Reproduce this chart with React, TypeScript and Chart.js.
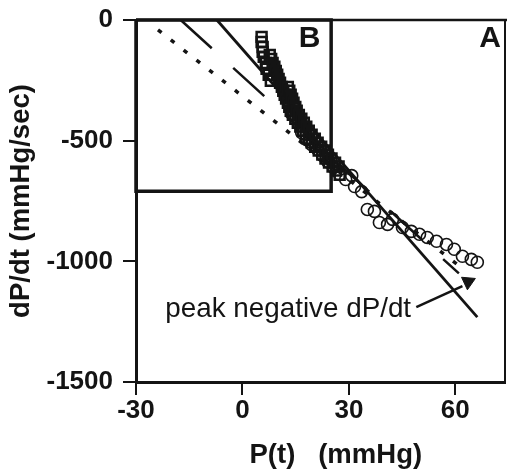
import { useEffect, useRef } from 'react';
import { Chart, registerables } from 'chart.js';

Chart.register(...registerables);

// ---- axis setup ----
const X_TICKS = [-30, 0, 30, 60];
const Y_TICKS = [0, -500, -1000, -1500];
const X_MIN = -30;
const X_MAX = 74;
const Y_MIN = -1500;
const Y_MAX = 0;
const X_TITLE = '    P(t)   (mmHg)';
const Y_TITLE = 'dP/dt (mmHg/sec)';

// ---- open squares (early relaxation) ----
const squareX = [
  5.4, 5.4, 5.7, 5.7, 6.0, 6.6, 6.8, 7.4, 8.0,
  7.7, 8.1, 8.5, 9.0, 9.4, 9.8, 10.2, 10.6, 11.1, 11.5, 11.9, 12.3, 12.8, 13.2, 13.6, 14.2,
  14.9, 15.6, 16.3, 17.0, 17.8, 18.7, 19.5, 20.5, 21.5, 22.5, 23.4, 24.4, 25.4, 26.4, 27.4,
  12.8, 13.2, 13.6, 14.0, 14.4, 14.9, 15.3, 15.9, 16.6, 17.3, 18.0, 18.7, 19.5, 20.4,
  21.2, 22.2, 23.2, 24.1, 25.1, 26.1, 27.1,
];
const squareY = [
  -70, -91, -112, -132, -153, -178, -202, -227, -252,
  -145, -161, -178, -194, -211, -227, -244, -260, -277, -293, -310, -326, -343, -360, -376, -393,
  -409, -426, -442, -459, -475, -492, -508, -525, -541, -558, -574, -591, -607, -624, -641,
  -277, -293, -310, -326, -343, -360, -376, -393, -409, -426, -442, -459, -475, -492,
  -508, -525, -541, -558, -574, -591, -607,
];

// ---- open circles ----
const circleX = [
  16.7, 18.1, 19.5, 21.2, 22.6, 24.0, 25.7, 27.4, 29.1, 30.8, 31.6, 33.6,
  35.2, 37.2, 38.6, 40.9, 42.3, 45.1, 47.6, 49.9, 52.1, 54.7, 57.5, 59.7, 62.0, 64.5, 66.2,
];
const circleY = [
  -467, -496, -517, -537, -562, -587, -612, -640, -661, -645, -690, -711,
  -785, -793, -839, -847, -826, -860, -876, -888, -901, -917, -930, -950, -979, -992, -1004,
];

// ---- regression lines ----
const solidX = [-7.2, 66.2];
const solidY = [0, -1231];
const dashX = [-17.4, 61.0];
const dashY = [0, -1050];
const dotX = [-23.8, 62.0];
const dotY = [-41, -1030];

// ---- inset box B ----
const boxX = [-30, 25, 25, -30, -30];
const boxY = [0, 0, -710, -710, 0];

// ---- peak negative dP/dt annotation ----
const arrowX = [49.0, 62.0];
const arrowY = [-1190, -1103];
const peakX = [63.6];
const peakY = [-1085];
const PEAK_LABEL = 'peak negative dP/dt';
const PEAK_LABEL_POS = { x: 12.9, y: -1198 };
const B_LABEL_POS = { x: 18.9, y: -78 };
const A_LABEL_POS = { x: 69.8, y: -78 };

const FONT = '"Liberation Sans", Arial, Helvetica, sans-serif';
const INK = '#141414';

const zip = (xs: number[], ys: number[]) => xs.map((x, i) => ({ x, y: ys[i] }));

const labelPlugin = {
  id: 'figLabels',
  afterDraw(chart: any) {
    const { ctx, chartArea, scales } = chart;
    const xs = scales.x;
    const ys = scales.y;
    ctx.save();
    ctx.strokeStyle = INK;
    ctx.lineWidth = 2.5;
    ctx.beginPath();
    ctx.moveTo(chartArea.left, chartArea.top);
    ctx.lineTo(chartArea.right + 2, chartArea.top);
    ctx.stroke();
    ctx.lineWidth = 2;
    ctx.beginPath();
    ctx.moveTo(chartArea.right, chartArea.top);
    ctx.lineTo(chartArea.right, chartArea.bottom);
    ctx.stroke();

    ctx.fillStyle = INK;
    ctx.textAlign = 'center';
    ctx.textBaseline = 'middle';
    ctx.font = `bold 30px ${FONT}`;
    ctx.fillText('B', xs.getPixelForValue(B_LABEL_POS.x), ys.getPixelForValue(B_LABEL_POS.y));
    ctx.fillText('A', xs.getPixelForValue(A_LABEL_POS.x), ys.getPixelForValue(A_LABEL_POS.y));
    ctx.font = `27.8px ${FONT}`;
    ctx.fillText(PEAK_LABEL, xs.getPixelForValue(PEAK_LABEL_POS.x), ys.getPixelForValue(PEAK_LABEL_POS.y));
    ctx.restore();
  },
};

export default function App() {
  const ref = useRef<HTMLCanvasElement | null>(null);

  useEffect(() => {
    if (!ref.current) return;
    const lineDs = (xs: number[], ys: number[], width: number, dash: number[] = []) => ({
      data: zip(xs, ys),
      showLine: true,
      borderColor: INK,
      borderWidth: width,
      borderDash: dash,
      borderCapStyle: 'butt' as const,
      pointRadius: 0,
      fill: false,
      clip: false,
    });
    const chart = new Chart(ref.current, {
      type: 'scatter',
      data: {
        datasets: [
          lineDs(boxX, boxY, 3.5),
          lineDs(dotX, dotY, 3.5, [4.5, 11.8]),
          lineDs(dashX, dashY, 2.5, [42, 29]),
          {
            data: zip(squareX, squareY),
            pointStyle: 'rect',
            pointRadius: 7,
            pointBorderWidth: 2.5,
            pointBorderColor: INK,
            pointBackgroundColor: 'rgba(255,255,255,0)',
            showLine: false,
          },
          {
            data: zip(circleX, circleY),
            pointStyle: 'circle',
            pointRadius: 6,
            pointBorderWidth: 1.6,
            pointBorderColor: INK,
            pointBackgroundColor: 'rgba(255,255,255,0)',
            showLine: false,
          },
          lineDs(solidX, solidY, 2.8),
          lineDs(arrowX, arrowY, 2.5),
          {
            data: zip(peakX, peakY),
            pointStyle: 'triangle',
            pointRotation: 65,
            pointRadius: 8,
            pointBorderWidth: 1,
            pointBorderColor: INK,
            pointBackgroundColor: INK,
            showLine: false,
          },
        ],
      },
      options: {
        animation: false,
        responsive: false,
        maintainAspectRatio: false,
        layout: { autoPadding: false, padding: { top: 20, right: 2, left: 0, bottom: 0 } },
        plugins: { legend: { display: false }, tooltip: { enabled: false } },
        scales: {
          x: {
            type: 'linear',
            min: X_MIN,
            max: X_MAX,
            afterBuildTicks: (s: any) => {
              s.ticks = X_TICKS.map((v) => ({ value: v }));
            },
            afterFit: (s: any) => {
              s.height = 90;
              s.paddingLeft = 0;
              s.paddingRight = 0;
              s.paddingTop = 0;
              s.paddingBottom = 0;
            },
            border: { display: true, color: INK, width: 3 },
            grid: { display: true, drawOnChartArea: false, drawTicks: true, tickLength: 13, color: INK, lineWidth: 2 },
            ticks: {
              color: INK,
              padding: 0,
              font: { family: FONT, size: 26, weight: 'bold' },
              callback: (v: any) => String(v),
            },
            title: {
              display: true,
              text: X_TITLE,
              color: INK,
              font: { family: FONT, size: 27.5, weight: 'bold' },
              padding: { top: 0, bottom: 0 },
            },
          },
          y: {
            type: 'linear',
            min: Y_MIN,
            max: Y_MAX,
            afterBuildTicks: (s: any) => {
              s.ticks = Y_TICKS.map((v) => ({ value: v }));
            },
            afterFit: (s: any) => {
              s.width = 136;
              s.paddingLeft = 0;
              s.paddingRight = 0;
              s.paddingTop = 0;
              s.paddingBottom = 0;
            },
            border: { display: true, color: INK, width: 3 },
            grid: { display: true, drawOnChartArea: false, drawTicks: true, tickLength: 13, color: INK, lineWidth: 2 },
            ticks: {
              color: INK,
              padding: 10,
              font: { family: FONT, size: 26, weight: 'bold' },
              callback: (v: any) => String(v),
            },
            title: {
              display: true,
              text: Y_TITLE,
              color: INK,
              font: { family: FONT, size: 27.5, weight: 'bold' },
              padding: { top: 5, bottom: 0 },
            },
          },
        },
      },
      plugins: [labelPlugin],
    });
    return () => chart.destroy();
  }, []);

  return (
    <div style={{ position: 'absolute', left: 0, top: 0, width: 507, height: 472, background: '#fff' }}>
      <canvas ref={ref} width={507} height={472} style={{ width: 507, height: 472, display: 'block' }} />
    </div>
  );
}
